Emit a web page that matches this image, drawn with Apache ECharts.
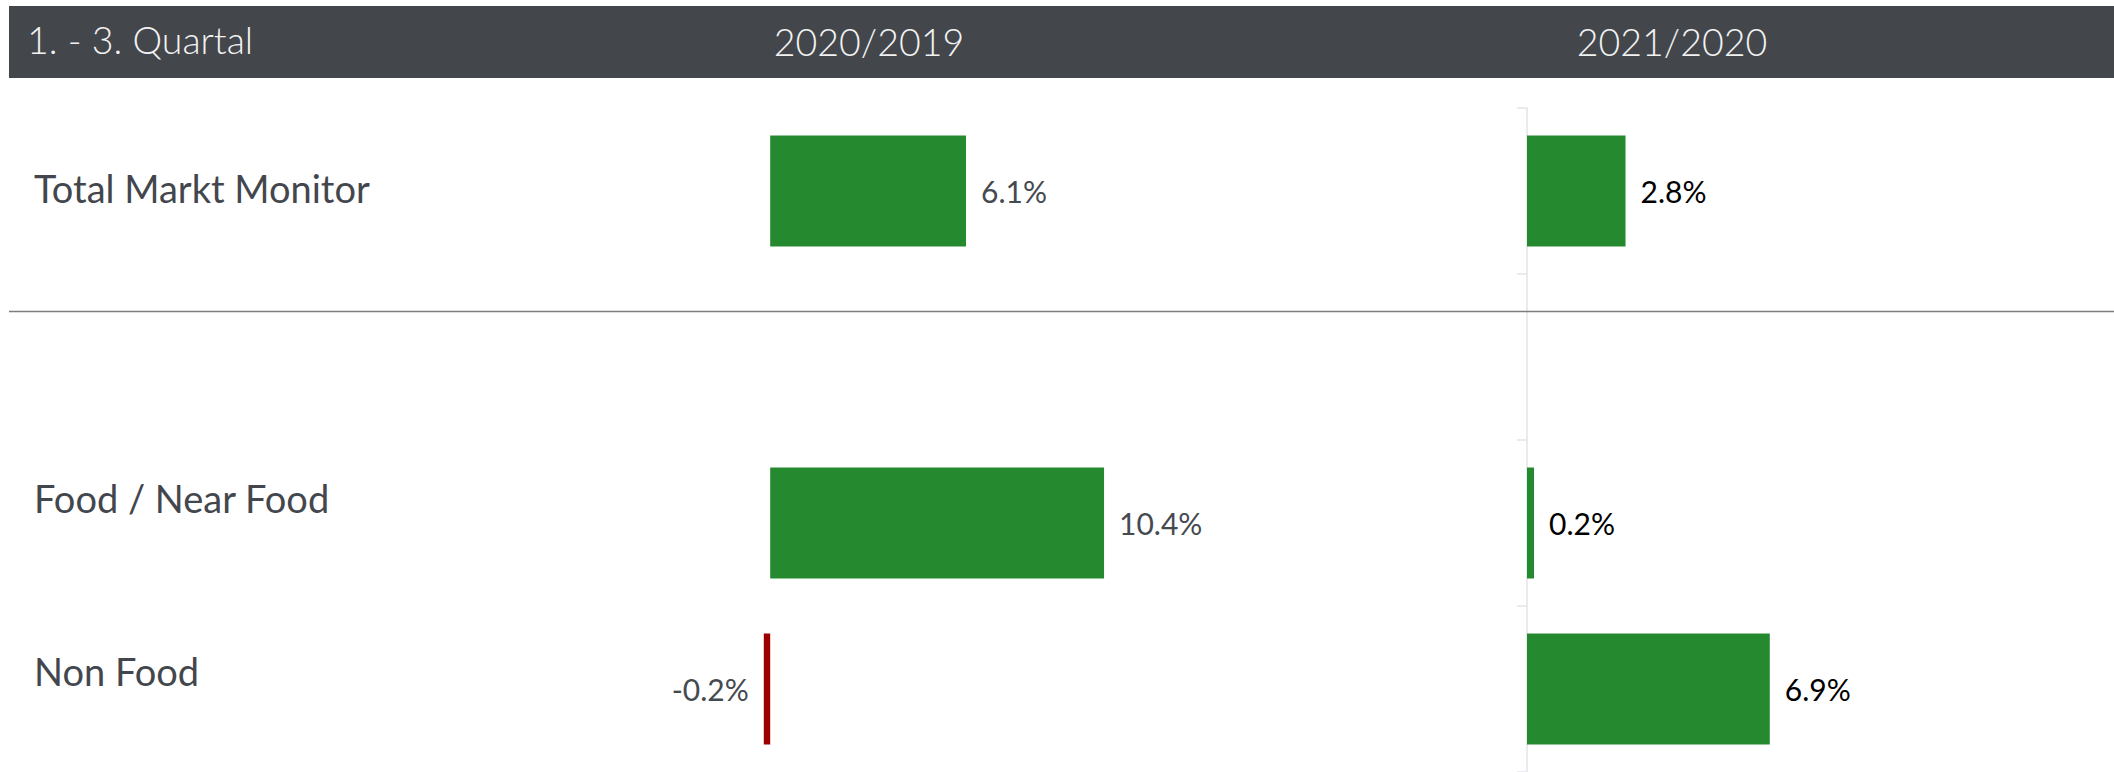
<!DOCTYPE html>
<html>
<head>
<meta charset="utf-8">
<title>Markt Monitor 1. - 3. Quartal</title>
<script src="https://cdn.jsdelivr.net/npm/echarts@6/dist/echarts.min.js"></script>
<style>
  html, body {margin: 0; padding: 0; background: #fff;}
  #chart {width: 2114px; height: 772px;}
</style>
</head>
<body>
<div id="chart"></div>
<script>
  // Kategorien (leere Zeile = Abstand unter der Trennlinie)
  var categories = ['Total Markt Monitor', '', 'Food / Near Food', 'Non Food'];
  var headTitle = '1. - 3. Quartal';
  var periods = ['2020/2019', '2021/2020'];
  // Veränderung in %
  var values2020 = [6.1, null, 10.4, -0.2];
  var values2021 = [2.8, null, 0.2, 6.9];

  var green = '#24892f';
  var red = '#9b0000';
  var font = 'Lato, "Open Sans", sans-serif';

  function buildData(vals) {
    return vals.map(function (v) {
      if (v === null) return '-';
      return {
        value: v,
        itemStyle: {color: v < 0 ? red : green},
        label: {position: v < 0 ? 'left' : 'right'}
      };
    });
  }

  // Label-Versatz pro Kategorie (Texte sitzen etwas über der Balkenmitte)
  var labelRich = {
    s0: {fontFamily: font, fontSize: 38, color: '#43474d', padding: [0, 0, 7, 0]},
    s1: {fontFamily: font, fontSize: 38, color: '#43474d'},
    s2: {fontFamily: font, fontSize: 38, color: '#43474d', padding: [0, 0, 51, 0]},
    s3: {fontFamily: font, fontSize: 38, color: '#43474d', padding: [0, 0, 37, 0]}
  };

  var myChart = echarts.init(document.getElementById('chart'), null, {renderer: 'svg'});

  var option = {
    animation: false,
    grid: [
      {left: 706, top: 108, width: 642, height: 665},
      {left: 1527, top: 108, width: 563, height: 665}
    ],
    xAxis: [
      {gridIndex: 0, type: 'value', min: -2, max: 18, show: false},
      {gridIndex: 1, type: 'value', min: 0, max: 16, show: false}
    ],
    yAxis: [
      {
        gridIndex: 0, type: 'category', data: categories, inverse: true,
        axisLine: {show: false},
        axisTick: {show: false},
        splitLine: {show: false},
        axisLabel: {
          align: 'left',
          margin: 672,
          formatter: function (v, i) {
            return v ? '{s' + i + '|' + v + '}' : '';
          },
          rich: labelRich
        }
      },
      {
        gridIndex: 1, type: 'category', data: categories, inverse: true,
        axisLine: {show: true, lineStyle: {color: '#e2e5ea', width: 1.5}},
        axisTick: {show: true, length: 10, lineStyle: {color: '#e2e5ea', width: 1.5}},
        axisLabel: {show: false},
        splitLine: {show: false}
      }
    ],
    series: [
      {
        name: periods[0], type: 'bar', xAxisIndex: 0, yAxisIndex: 0,
        barWidth: 111,
        data: buildData(values2020),
        label: {
          show: true, distance: 15,
          fontFamily: font, fontSize: 30, color: '#454a50',
          formatter: function (p) { return p.value.toFixed(1) + '%'; }
        }
      },
      {
        name: periods[1], type: 'bar', xAxisIndex: 1, yAxisIndex: 1,
        barWidth: 111,
        data: buildData(values2021),
        label: {
          show: true, distance: 15,
          fontFamily: font, fontSize: 30, color: '#000',
          formatter: function (p) { return p.value.toFixed(1) + '%'; }
        }
      }
    ],
    graphic: [
      {type: 'rect', z: 50, shape: {x: 9, y: 6, width: 2105, height: 72}, style: {fill: '#43464b'}},
      {type: 'text', z: 51, x: 27, y: 39,
        style: {text: headTitle, fill: '#f2f2f2', font: '300 37.5px ' + font, align: 'left', verticalAlign: 'middle'}},
      {type: 'text', z: 51, x: 869, y: 41,
        style: {text: periods[0], fill: '#f2f2f2', font: '300 37.5px ' + font, align: 'center', verticalAlign: 'middle'}},
      {type: 'text', z: 51, x: 1672, y: 41,
        style: {text: periods[1], fill: '#f2f2f2', font: '300 37.5px ' + font, align: 'center', verticalAlign: 'middle'}},
      {type: 'line', z: 60, shape: {x1: 9, y1: 311.5, x2: 2114, y2: 311.5}, style: {stroke: '#7d7d7d', lineWidth: 1.5}}
    ]
  };

  myChart.setOption(option);
</script>
</body>
</html>
